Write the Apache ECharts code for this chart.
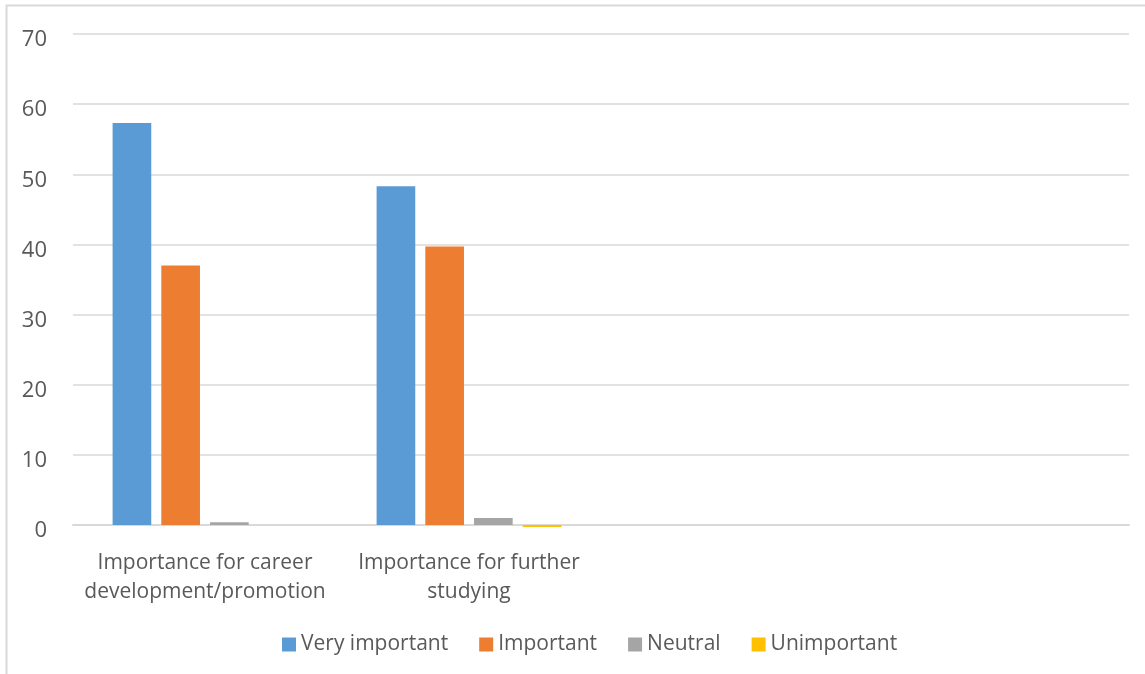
<!DOCTYPE html>
<html>
<head>
<meta charset="utf-8">
<script src="https://cdn.jsdelivr.net/npm/echarts@6/dist/echarts.min.js"></script>
<style>
  html, body { margin: 0; padding: 0; background: #fff; }
  #chart { width: 1145px; height: 674px; }
</style>
</head>
<body>
<div id="chart"></div>
<script>
// Survey categories (the last two slots are left blank on the axis)
const categories = [
  'Importance for career\ndevelopment/promotion',
  'Importance for further\nstudying',
  '',
  ''
];

// Percent of respondents per rating
const veryImportant = [57.3, 48.3, null, null];
const important     = [37.0, 39.7, null, null];
const neutral       = [0.4, 1.0, null, null];
const unimportant   = [null, -0.3, null, null];

const seriesNames = ['Very important', 'Important', 'Neutral', 'Unimportant'];
const seriesColors = ['#5B9BD5', '#ED7D31', '#A5A5A5', '#FFC000'];
const seriesData = [veryImportant, important, neutral, unimportant];

const textColor = '#595959';
const fontFamily = '"Open Sans", "Noto Sans", sans-serif';

const chart = echarts.init(document.getElementById('chart'), null, { renderer: 'canvas' });

chart.setOption({
  animation: false,
  backgroundColor: '#ffffff',
  graphic: [{
    type: 'rect',
    shape: { x: 6.5, y: 5.5, width: 1200, height: 700 },
    style: { fill: 'none', stroke: '#d9d9d9', lineWidth: 2 },
    silent: true
  }],
  grid: { left: 73, right: 16, top: 34, bottom: 149, containLabel: false },
  xAxis: {
    type: 'category',
    data: categories,
    axisTick: { show: false },
    axisLine: { show: true, lineStyle: { color: '#d9d9d9', width: 2 } },
    axisLabel: {
      color: textColor,
      fontSize: 21,
      fontFamily: fontFamily,
      lineHeight: 29,
      margin: 24,
      interval: 0
    },
    splitLine: { show: false }
  },
  yAxis: {
    type: 'value',
    min: 0,
    max: 70,
    interval: 10,
    axisLine: { show: false },
    axisTick: { show: false },
    axisLabel: {
      color: textColor,
      fontSize: 22,
      fontFamily: fontFamily,
      margin: 26,
      verticalAlign: 'top',
      lineHeight: 12
    },
    splitLine: { lineStyle: { color: '#d9d9d9', width: 1.5 } }
  },
  legend: {
    left: 277,
    top: 629,
    itemWidth: 14,
    itemHeight: 14,
    itemGap: 31,
    icon: 'rect',
    textStyle: { color: textColor, fontSize: 21, fontFamily: fontFamily },
    data: seriesNames
  },
  series: seriesNames.map((name, i) => ({
    name: name,
    type: 'bar',
    data: seriesData[i],
    clip: false,
    barGap: '26%',
    barCategoryGap: '30%',
    itemStyle: { color: seriesColors[i] }
  }))
});
</script>
</body>
</html>
